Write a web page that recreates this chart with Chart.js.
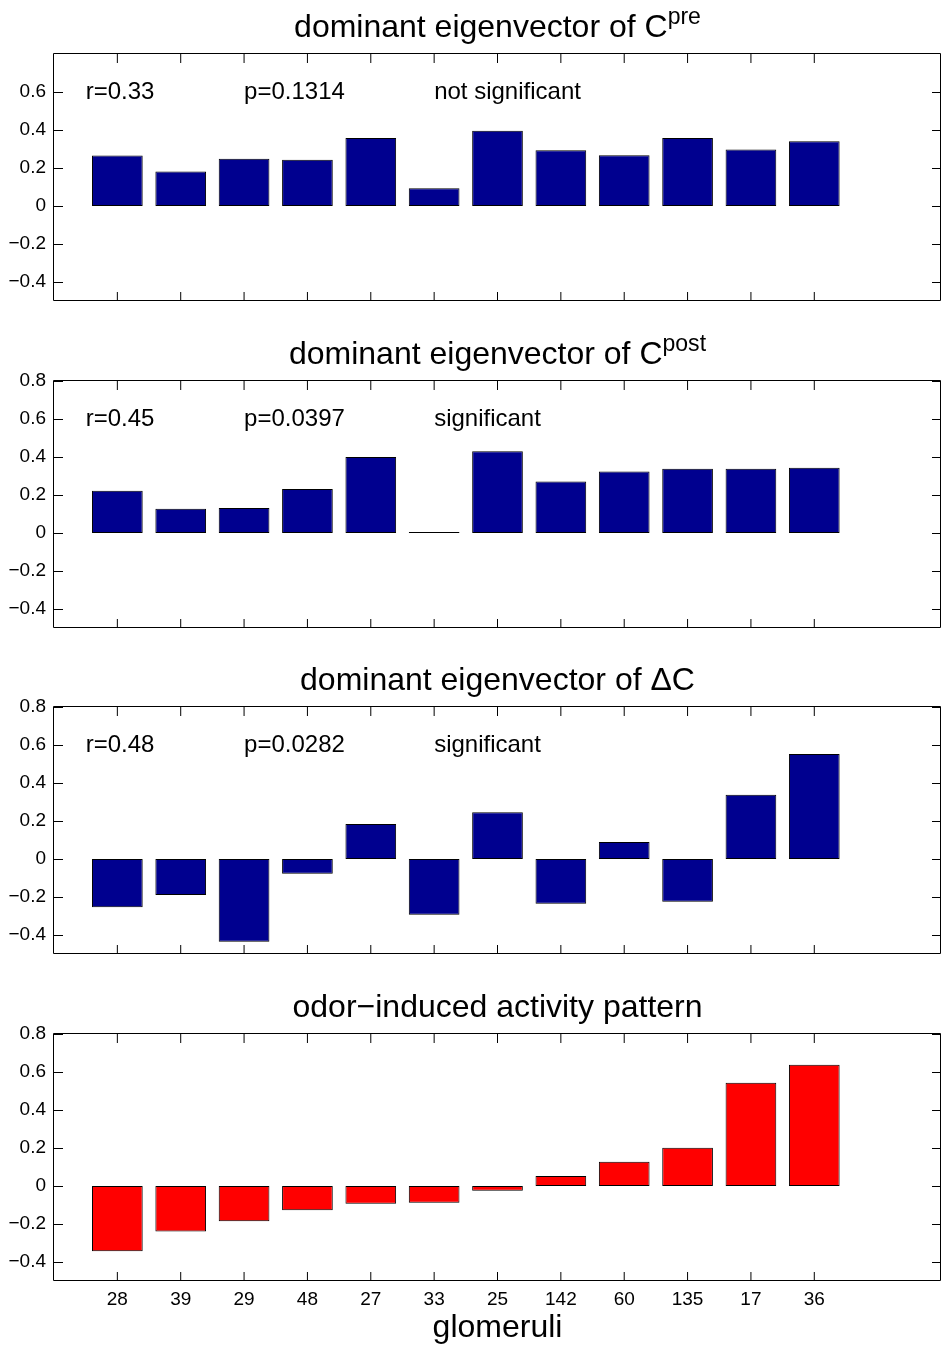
<!DOCTYPE html>
<html>
<head>
<meta charset="utf-8">
<script src="https://cdn.jsdelivr.net/npm/chart.js@4.4.0/dist/chart.umd.min.js"></script>
<style>
html,body{margin:0;padding:0;background:#fff;}
body{width:942px;height:1347px;position:relative;overflow:hidden;font-family:"Liberation Sans",Arial,Helvetica,sans-serif;}
canvas{position:absolute;left:0;}
.title{position:absolute;left:54px;width:887px;text-align:center;font-size:32px;line-height:32px;color:#000;white-space:nowrap;z-index:2;}
.title sup{font-size:0.72em;line-height:0;position:relative;top:-0.05em;}
</style>
</head>
<body>
<div class="title" id="t1">dominant eigenvector of C<sup>pre</sup></div>
<div class="title" id="t2">dominant eigenvector of C<sup>post</sup></div>
<div class="title" id="t3">dominant eigenvector of ΔC</div>
<div class="title" id="t4">odor−induced activity pattern</div>
<canvas id="c1"></canvas>
<canvas id="c2"></canvas>
<canvas id="c3"></canvas>
<canvas id="c4"></canvas>
<script>
// ---------- data ----------
const glomeruli = ['28','39','29','48','27','33','25','142','60','135','17','36'];
const eigPre   = [0.266, 0.181, 0.249, 0.244, 0.358, 0.094, 0.396, 0.294, 0.267, 0.358, 0.297, 0.341];
const eigPost  = [0.222, 0.127, 0.131, 0.231, 0.400, 0.005, 0.430, 0.271, 0.324, 0.338, 0.338, 0.343];
const eigDelta = [-0.254, -0.190, -0.436, -0.077, 0.184, -0.294, 0.246, -0.235, 0.089, -0.225, 0.338, 0.553];
const odorActivity = [-0.344, -0.240, -0.185, -0.128, -0.093, -0.088, -0.025, 0.052, 0.127, 0.201, 0.543, 0.638];
const statR   = ['r=0.33', 'r=0.45', 'r=0.48'];
const statP   = ['p=0.1314', 'p=0.0397', 'p=0.0282'];
const statSig = ['not significant', 'significant', 'significant'];
const yTicksPre  = [-0.4, -0.2, 0, 0.2, 0.4, 0.6];
const yTicksFull = [-0.4, -0.2, 0, 0.2, 0.4, 0.6, 0.8];
const xAxisTitle = 'glomeruli';

// ---------- layout ----------
const FONT = '"Liberation Sans", Arial, Helvetica, sans-serif';
const PLOT_H = 247, PAD_TOP = 26;
const panels = [
  {id:'c1', title:'t1', plotTop:54,   values:eigPre,       color:'#00008F', yTicks:yTicksPre,  stats:0},
  {id:'c2', title:'t2', plotTop:381,  values:eigPost,      color:'#00008F', yTicks:yTicksFull, stats:1},
  {id:'c3', title:'t3', plotTop:707,  values:eigDelta,     color:'#00008F', yTicks:yTicksFull, stats:2},
  {id:'c4', title:'t4', plotTop:1034, values:odorActivity, color:'#FF0000', yTicks:yTicksFull, stats:null, last:true}
];

function fmt(v){
  const s = (Math.round(Math.abs(v)*10)/10).toString();
  return v < 0 ? '\u2212' + s : s;
}

const matlabAxes = {
  id: 'matlabAxes',
  afterDatasetsDraw(chart, args, opts) {
    const {ctx, chartArea: a, scales: {x, y}} = chart;
    const L = 9;
    ctx.save();
    ctx.strokeStyle = '#000';
    ctx.lineWidth = 1;
    ctx.beginPath();
    x.ticks.forEach(t => {
      const px = x.getPixelForValue(t.value);
      ctx.moveTo(px, a.bottom); ctx.lineTo(px, a.bottom - L);
      ctx.moveTo(px, a.top); ctx.lineTo(px, a.top + L);
    });
    y.ticks.forEach(t => {
      const py = Math.round(y.getPixelForValue(t.value)) + 0.5;
      ctx.moveTo(a.left, py); ctx.lineTo(a.left + L, py);
      ctx.moveTo(a.right, py); ctx.lineTo(a.right - L, py);
    });
    ctx.stroke();
    ctx.beginPath();
    const l = Math.round(a.left) - 0.5, r = Math.round(a.right) - 0.5;
    const t = Math.round(a.top) - 0.5, b = Math.round(a.bottom) - 0.5;
    ctx.rect(l, t, r - l, b - t);
    ctx.stroke();
    if (opts && opts.texts) {
      ctx.fillStyle = '#000';
      ctx.font = '24px ' + FONT;
      ctx.textAlign = 'left';
      ctx.textBaseline = 'middle';
      const py = y.getPixelForValue(opts.y);
      opts.texts.forEach((txt, i) => {
        ctx.fillText(txt, x.getPixelForValue(opts.xs[i]), py);
      });
    }
    ctx.restore();
  }
};

panels.forEach(p => {
  const bottomH = p.last ? 66 : 0;
  const padBottom = p.last ? 0 : 26;
  const H = PAD_TOP + PLOT_H + bottomH + padBottom;
  const cv = document.getElementById(p.id);
  cv.width = 942; cv.height = H;
  cv.style.width = '942px'; cv.style.height = H + 'px';
  cv.style.top = (p.plotTop - PAD_TOP) + 'px';

  const tdiv = document.getElementById(p.title);
  tdiv.style.top = (p.plotTop - 44) + 'px';

  const statsOpt = p.stats === null ? {} : {
    texts: [statR[p.stats], statP[p.stats], statSig[p.stats]],
    xs: [0.5, 3, 6], y: 0.6
  };

  new Chart(cv, {
    type: 'bar',
    data: {
      datasets: [{
        data: p.values.map((v, i) => ({x: i + 1, y: v})),
        backgroundColor: p.color,
        borderColor: '#000',
        borderWidth: 1,
        borderSkipped: false,
        barPercentage: 0.8,
        categoryPercentage: 1.0
      }]
    },
    options: {
      responsive: false,
      maintainAspectRatio: false,
      devicePixelRatio: 1,
      animation: false,
      layout: {padding: {top: PAD_TOP, left: 0, right: 1, bottom: padBottom}},
      plugins: {
        legend: {display: false},
        tooltip: {enabled: false},
        title: {display: false},
        matlabAxes: statsOpt
      },
      scales: {
        x: {
          type: 'linear',
          min: 0, max: 14,
          offset: false,
          grid: {display: false, drawTicks: false},
          border: {display: false},
          afterBuildTicks: s => { s.ticks = glomeruli.map((g, i) => ({value: i + 1})); },
          afterFit: s => { s.height = bottomH; },
          ticks: {
            display: !!p.last,
            autoSkip: false,
            maxRotation: 0,
            padding: 7,
            color: '#000',
            font: {family: FONT, size: 19},
            callback: v => glomeruli[v - 1]
          },
          title: {
            display: !!p.last,
            text: xAxisTitle,
            color: '#000',
            font: {family: FONT, size: 32},
            padding: {top: 0, bottom: 0}
          }
        },
        y: {
          type: 'linear',
          min: -0.5, max: 0.8,
          grid: {display: false, drawTicks: false},
          border: {display: false},
          afterBuildTicks: s => { s.ticks = p.yTicks.map(v => ({value: v})); },
          afterFit: s => { s.width = 54; },
          ticks: {
            padding: 8,
            color: '#000',
            font: {family: FONT, size: 19},
            callback: v => fmt(v)
          }
        }
      }
    },
    plugins: [matlabAxes]
  });
});
</script>
</body>
</html>
